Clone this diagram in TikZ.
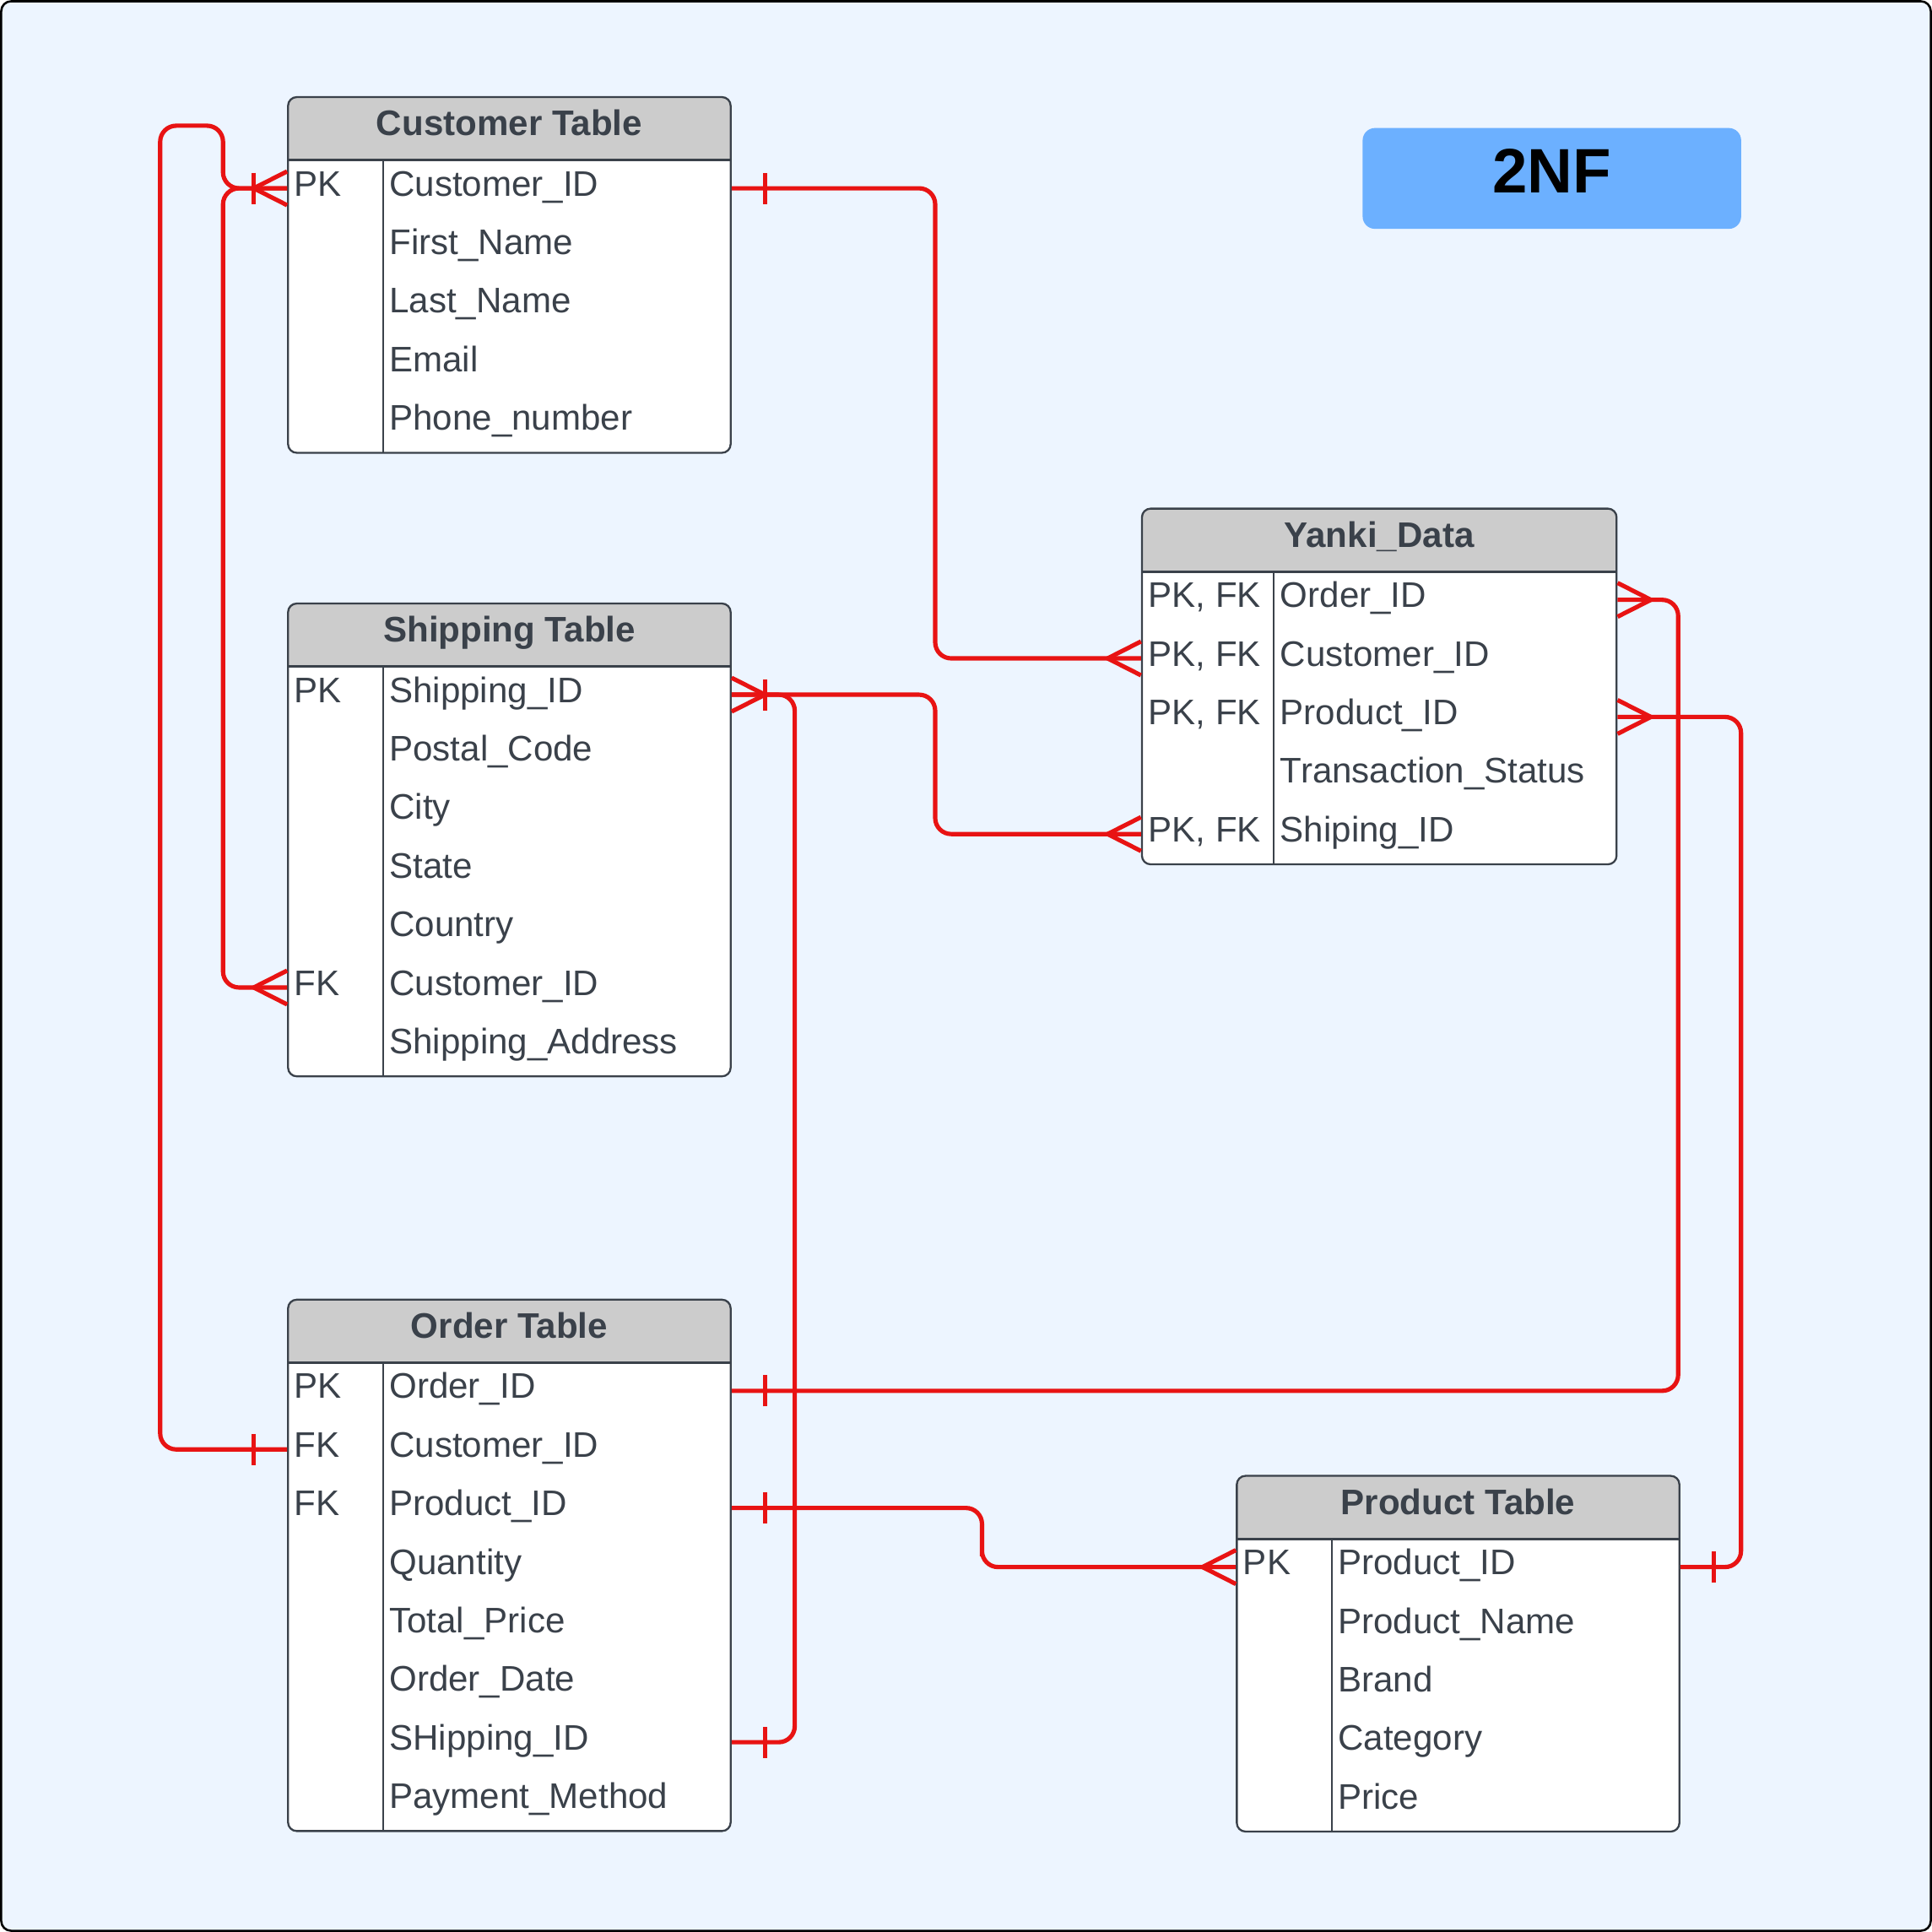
\documentclass[tikz,border=0pt]{standalone}
\usepackage{fontspec}
\setmainfont{Liberation Sans}
\usepackage{tikz}
\definecolor{bgblue}{RGB}{237,245,255}
\definecolor{hdgray}{RGB}{204,204,204}
\definecolor{ink}{RGB}{58,65,74}
\definecolor{relred}{RGB}{232,19,19}
\definecolor{nfblue}{RGB}{108,176,255}

% crow's foot (many) and bar (one)
\pgfdeclarearrow{
  name = crow,
  setup code = {
    \pgfarrowssettipend{0pt}
    \pgfarrowssetlineend{0pt}
    \pgfarrowssetbackend{-7.7pt}
    \pgfarrowshullpoint{0pt}{3.9pt}
    \pgfarrowshullpoint{0pt}{-3.9pt}
    \pgfarrowshullpoint{-7.7pt}{0pt}
  },
  drawing code = {
    \pgfpathmoveto{\pgfqpoint{-7.7pt}{0pt}}
    \pgfpathlineto{\pgfqpoint{0pt}{3.9pt}}
    \pgfpathmoveto{\pgfqpoint{-7.7pt}{0pt}}
    \pgfpathlineto{\pgfqpoint{0pt}{-3.9pt}}
    \pgfusepathqstroke
  }
}
\pgfdeclarearrow{
  name = one,
  setup code = {
    \pgfarrowssettipend{0pt}
    \pgfarrowssetlineend{0pt}
    \pgfarrowssetbackend{-8pt}
    \pgfarrowshullpoint{-7.7pt}{3.6pt}
    \pgfarrowshullpoint{-7.7pt}{-3.6pt}
    \pgfarrowshullpoint{0pt}{0pt}
  },
  drawing code = {
    \pgfpathmoveto{\pgfqpoint{-7.7pt}{3.6pt}}
    \pgfpathlineto{\pgfqpoint{-7.7pt}{-3.6pt}}
    \pgfusepathqstroke
  }
}

\newcommand{\fld}[3][0.77cm]{\makebox[#1][l]{#2}#3}

\tikzstyle{fieldrow}=[anchor=north west, inner xsep=0.06cm, inner ysep=0.07cm, outer sep=0pt, text height=0.23cm, text depth=0.105cm, text=ink, font=\fontsize{8.2}{9.8}\selectfont]
\tikzstyle{hd}=[anchor=north, inner ysep=0.08cm, outer sep=0pt, text height=0.24cm, text depth=0.11cm, text=ink, font=\fontsize{8.2}{9.8}\selectfont\bfseries]
\tikzstyle{rel}=[draw=relred, line width=1pt, rounded corners=0.13cm]
\tikzstyle{badge}=[fill=nfblue, rounded corners=0.1cm, minimum width=3.07cm, minimum height=0.818cm, text height=0.40cm, text depth=0.164cm, font=\fontsize{14.5}{17}\selectfont\bfseries]
\tikzset{tbl/.style={draw=ink, fill=white, line width=0.45pt, rounded corners=0.07cm, anchor=north west, inner sep=0pt,
  path picture={
    \fill[hdgray, sharp corners] (path picture bounding box.north west) rectangle ([yshift=-0.51cm]path picture bounding box.north east);
    \draw[ink, sharp corners, line width=0.6pt] ([yshift=-0.51cm]path picture bounding box.north west) -- ([yshift=-0.51cm]path picture bounding box.north east);
    \draw[ink, sharp corners] ([shift={(#1,-0.51cm)}]path picture bounding box.north west) -- ([xshift=#1]path picture bounding box.south west);
  }}}

\begin{document}
\begin{tikzpicture}[x=0.01cm, y=-0.01cm]
\useasboundingbox (0,0) rectangle (1568,1568);
\draw[black, line width=0.5pt, fill=bgblue, rounded corners=0.08cm] (1,1) rectangle (1567,1567);

\node[badge] (nf) at (1259.5,144.8) {2NF};

% customer
\node[tbl=0.77cm, minimum width=3.59cm, minimum height=2.885cm] (cust) at (233,78) {};
\node[hd] (cuh) at (cust.north) {Customer Table};
\node[fieldrow] (cu1) at (cust.west |- cuh.south) {\fld{PK}{Customer\_ID}};
\node[fieldrow] (cu2) at (cu1.south west) {\fld{}{First\_Name}};
\node[fieldrow] (cu3) at (cu2.south west) {\fld{}{Last\_Name}};
\node[fieldrow] (cu4) at (cu3.south west) {\fld{}{Email}};
\node[fieldrow] (cu5) at (cu4.south west) {\fld{}{Phone\_number}};

% shipping
\node[tbl=0.77cm, minimum width=3.59cm, minimum height=3.835cm] (ship) at (233,489) {};
\node[hd] (shh) at (ship.north) {Shipping Table};
\node[fieldrow] (sh1) at (ship.west |- shh.south) {\fld{PK}{Shipping\_ID}};
\node[fieldrow] (sh2) at (sh1.south west) {\fld{}{Postal\_Code}};
\node[fieldrow] (sh3) at (sh2.south west) {\fld{}{City}};
\node[fieldrow] (sh4) at (sh3.south west) {\fld{}{State}};
\node[fieldrow] (sh5) at (sh4.south west) {\fld{}{Country}};
\node[fieldrow] (sh6) at (sh5.south west) {\fld{FK}{Customer\_ID}};
\node[fieldrow] (sh7) at (sh6.south west) {\fld{}{Shipping\_Address}};

% order
\node[tbl=0.77cm, minimum width=3.59cm, minimum height=4.31cm] (ord) at (233,1054) {};
\node[hd] (orh) at (ord.north) {Order Table};
\node[fieldrow] (or1) at (ord.west |- orh.south) {\fld{PK}{Order\_ID}};
\node[fieldrow] (or2) at (or1.south west) {\fld{FK}{Customer\_ID}};
\node[fieldrow] (or3) at (or2.south west) {\fld{FK}{Product\_ID}};
\node[fieldrow] (or4) at (or3.south west) {\fld{}{Quantity}};
\node[fieldrow] (or5) at (or4.south west) {\fld{}{Total\_Price}};
\node[fieldrow] (or6) at (or5.south west) {\fld{}{Order\_Date}};
\node[fieldrow] (or7) at (or6.south west) {\fld{}{SHipping\_ID}};
\node[fieldrow] (or8) at (or7.south west) {\fld{}{Payment\_Method}};

% yanki
\node[tbl=1.07cm, minimum width=3.85cm, minimum height=2.885cm] (yanki) at (926,412) {};
\node[hd] (ydh) at (yanki.north) {Yanki\_Data};
\node[fieldrow] (yd1) at (yanki.west |- ydh.south) {\fld[1.07cm]{PK, FK}{Order\_ID}};
\node[fieldrow] (yd2) at (yd1.south west) {\fld[1.07cm]{PK, FK}{Customer\_ID}};
\node[fieldrow] (yd3) at (yd2.south west) {\fld[1.07cm]{PK, FK}{Product\_ID}};
\node[fieldrow] (yd4) at (yd3.south west) {\fld[1.07cm]{}{Transaction\_Status}};
\node[fieldrow] (yd5) at (yd4.south west) {\fld[1.07cm]{PK, FK}{Shiping\_ID}};

% product
\node[tbl=0.77cm, minimum width=3.59cm, minimum height=2.885cm] (prod) at (1003,1197) {};
\node[hd] (prh) at (prod.north) {Product Table};
\node[fieldrow] (pr1) at (prod.west |- prh.south) {\fld{PK}{Product\_ID}};
\node[fieldrow] (pr2) at (pr1.south west) {\fld{}{Product\_Name}};
\node[fieldrow] (pr3) at (pr2.south west) {\fld{}{Brand}};
\node[fieldrow] (pr4) at (pr3.south west) {\fld{}{Category}};
\node[fieldrow] (pr5) at (pr4.south west) {\fld{}{Price}};

% relations
\draw[rel, one-crow] (cust.east |- cu1) -| (759,400) |- (yanki.west |- yd2);
\draw[rel, one-crow] (ord.west |- or2) -| (130,102) -- (181,102) |- (cust.west |- cu1);
\draw[rel, one-crow] (cust.west |- cu1) -| (181,500) |- (ship.west |- sh6);
\draw[rel, one-crow] (ship.east |- sh1) -| (759,600) |- (yanki.west |- yd5);
\draw[rel, one-crow] (ord.east |- or7) -| (645,1000) |- (ship.east |- sh1);
\draw[rel, one-crow] (ord.east |- or1) -| (1362,800) |- (yanki.east |- yd1);
\draw[rel, one-crow] (ord.east |- or3) -| (797,1250) |- (prod.west |- pr1);
\draw[rel, one-crow] (prod.east |- pr1) -| (1413,900) |- (yanki.east |- yd3);
\end{tikzpicture}
\end{document}
